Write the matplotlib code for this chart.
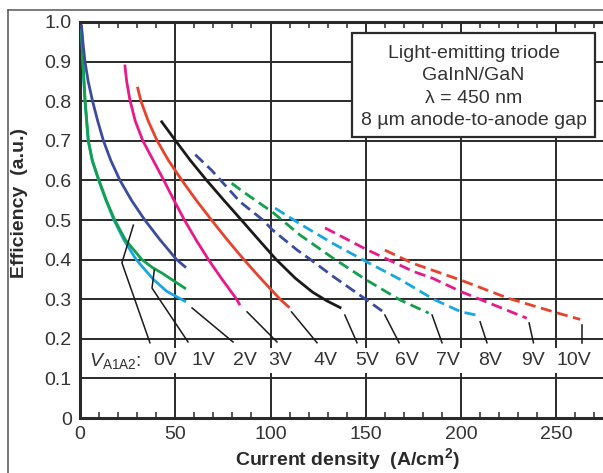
import matplotlib
matplotlib.use("Agg")
import matplotlib.pyplot as plt
from matplotlib.lines import Line2D
from matplotlib.patches import Rectangle
from matplotlib.ticker import MultipleLocator

plt.rcParams["font.family"] = ["Liberation Sans", "DejaVu Sans"]
plt.rcParams["mathtext.fontset"] = "custom"
plt.rcParams["mathtext.rm"] = "Liberation Sans"
plt.rcParams["mathtext.it"] = "Liberation Sans:italic"
plt.rcParams["mathtext.bf"] = "Liberation Sans:bold"

# efficiency curves, one per anode-to-anode voltage
v0_x = [0.8, 1.5, 2.6, 4.3, 6.4, 9.8, 13.6, 17.8, 23, 29.5, 38.5, 45.5, 55]
v0_y = [0.98, 0.90, 0.80, 0.70, 0.65, 0.60, 0.55, 0.50, 0.45, 0.40, 0.35, 0.32, 0.295]
v1_x = [0.8, 1.5, 2.7, 4.4, 6.5, 10, 13.8, 18.2, 23.8, 32.5, 38, 43, 49, 55]
v1_y = [0.98, 0.90, 0.80, 0.70, 0.65, 0.60, 0.55, 0.50, 0.45, 0.40, 0.38, 0.366, 0.347, 0.328]
v2_x = [0.8, 1.5, 2.6, 4.3, 6.6, 9.3, 12.3, 16.2, 21, 27, 34, 42, 50.7, 55.1]
v2_y = [0.99, 0.95, 0.90, 0.85, 0.80, 0.75, 0.70, 0.65, 0.60, 0.55, 0.50, 0.45, 0.40, 0.382]
v3_x = [23.6, 24.5, 26.2, 29, 33, 38.5, 44, 49.3, 54.8, 60.9, 67.4, 74.6, 82.2, 83.6]
v3_y = [0.889, 0.85, 0.803, 0.75, 0.70, 0.65, 0.60, 0.55, 0.50, 0.45, 0.40, 0.35, 0.30, 0.288]
v4_x = [30.3, 32, 35.8, 40.5, 46.5, 53.5, 61, 69, 77.3, 86, 95.3, 105, 109.4]
v4_y = [0.833, 0.80, 0.75, 0.70, 0.65, 0.60, 0.55, 0.50, 0.45, 0.40, 0.35, 0.30, 0.281]
v5_x = [42.9, 50.2, 58, 66.5, 75.5, 84.7, 93.8, 103, 113, 122, 129.5, 136.5]
v5_y = [0.748, 0.70, 0.65, 0.60, 0.55, 0.50, 0.45, 0.40, 0.353, 0.318, 0.296, 0.279]
v6_x = [60.5, 69, 84, 96, 101, 114, 121, 133, 150.5, 159.2]
v6_y = [0.665, 0.626, 0.546, 0.50, 0.475, 0.424, 0.40, 0.357, 0.298, 0.268]
v7_x = [79.6, 85.7, 101, 115.5, 133, 150.5, 168, 183]
v7_y = [0.593, 0.571, 0.52, 0.462, 0.403, 0.348, 0.298, 0.265]
v8_x = [102.4, 115.5, 133, 150.6, 168, 185.5, 200, 208]
v8_y = [0.53, 0.49, 0.44, 0.394, 0.35, 0.30, 0.268, 0.26]
v9_x = [128.6, 150.6, 175, 185, 200, 234.5]
v9_y = [0.48, 0.425, 0.37, 0.353, 0.319, 0.252]
v10_x = [160, 175, 200, 225, 250, 262.5]
v10_y = [0.424, 0.39, 0.348, 0.302, 0.266, 0.249]

curves_x = [v0_x, v1_x, v2_x, v3_x, v4_x, v5_x, v6_x, v7_x, v8_x, v9_x, v10_x]
curves_y = [v0_y, v1_y, v2_y, v3_y, v4_y, v5_y, v6_y, v7_y, v8_y, v9_y, v10_y]
colors = ["#1AA7E1", "#12A04B", "#3B4BA0", "#E8198B", "#E8412C", "#1A1A1A",
          "#3B4BA0", "#12A04B", "#1AA7E1", "#E8198B", "#E8412C"]
dashed = [False] * 6 + [True] * 5

# voltage labels and the leader lines pointing at each curve
volt_labels = ["0V", "1V", "2V", "3V", "4V", "5V", "6V", "7V", "8V", "9V", "10V"]
label_x = [44.6, 64.6, 86.6, 105, 128.6, 150.6, 171.6, 193, 215, 238, 259]
label_y = 0.145
leader_x = [[36.7, 22, 28], [56.7, 37.8, 39], [80.3, 58.8], [103.4, 87.7], [124.4, 111],
            [145.4, 139], [167.5, 160], [190, 184.8], [213.6, 210], [238, 235.7], [263.5, 263.5]]
leader_y = [[0.19, 0.392, 0.487], [0.192, 0.328, 0.374], [0.192, 0.278], [0.192, 0.268], [0.19, 0.268],
            [0.19, 0.26], [0.19, 0.26], [0.19, 0.26], [0.19, 0.243], [0.19, 0.24], [0.19, 0.235]]

info_lines = ["Light-emitting triode", "GaInN/GaN", "λ = 450 nm", "8 µm anode-to-anode gap"]

fig = plt.figure(figsize=(6.03, 4.73), dpi=100)
ax = fig.add_axes([80 / 603, 55 / 473, 523 / 603, 396 / 473])

ax.set_xlim(0, 274.5)
ax.set_ylim(0, 1.0)
ax.xaxis.set_major_locator(MultipleLocator(50))
ax.xaxis.set_minor_locator(MultipleLocator(10))
ax.set_yticks([i / 10 for i in range(11)])
ax.set_yticklabels(["0"] + [f"{i / 10:.1f}" for i in range(1, 11)])

ax.grid(True, which="major", color="#2a2a2a", linewidth=1.4)
ax.set_axisbelow(True)
ax.tick_params(which="major", length=0, labelsize=14, colors="#333333", pad=6)
ax.tick_params(axis="x", which="minor", direction="in", length=4.5, width=1.1,
               top=True, bottom=True, color="#2a2a2a")
for side in ["left", "bottom", "top"]:
    ax.spines[side].set_linewidth(2.2)
    ax.spines[side].set_color("#2a2a2a")
ax.spines["right"].set_visible(False)

for xs, ys, c, d in zip(curves_x, curves_y, colors, dashed):
    if d:
        ax.plot(xs, ys, color=c, linewidth=2.0, dashes=(4, 2), zorder=4)
    else:
        ax.plot(xs, ys, color=c, linewidth=2.0, zorder=4)

for lx, ly in zip(leader_x, leader_y):
    ax.plot(lx, ly, color="#1A1A1A", linewidth=1.1, zorder=4)

for txt, x in zip(volt_labels, label_x):
    ax.text(x, label_y, txt, fontsize=14, color="#333333", ha="center", va="center", zorder=5,
            bbox=dict(boxstyle="square,pad=0.2", fc="white", ec="none"))
ax.text(4.5, label_y, r"$V_{\mathrm{A1A2}}$:", fontsize=14, color="#333333",
        ha="left", va="center", zorder=5)

# info box in the upper right
ax.add_patch(Rectangle((0.520, 0.7096), 0.465, 0.2624, transform=ax.transAxes,
                       facecolor="white", edgecolor="#2a2a2a", linewidth=1.6, zorder=6))
ax.text(0.7525, 0.836, "\n".join(info_lines), transform=ax.transAxes, fontsize=14,
        color="#333333", ha="center", va="center", linespacing=1.42, zorder=7)

ax.set_xlabel(r"Current density  (A/cm$^{\mathbf{2}}$)", fontsize=14, fontweight="bold",
              color="#2a2a2a")
ax.set_ylabel("Efficiency  (a.u.)", fontsize=14, fontweight="bold", color="#2a2a2a")
ax.xaxis.set_label_coords(0.512, -0.071)
ax.yaxis.set_label_coords(-0.099, 0.543)

# outer frame of the original figure
fig.add_artist(Line2D([7.5 / 603, 7.5 / 603], [0, 1 - 10.5 / 473], color="#555555", linewidth=1.1))
fig.add_artist(Line2D([7.5 / 603, 1], [1 - 10.5 / 473, 1 - 10.5 / 473], color="#555555", linewidth=1.1))

fig.savefig("out.png", dpi=100)
